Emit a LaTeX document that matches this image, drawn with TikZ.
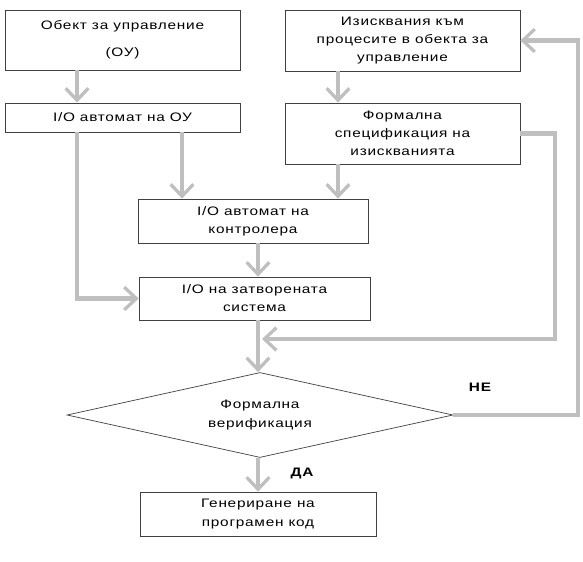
\documentclass[tikz,border=0pt]{standalone}
\usepackage{fontspec}
\setmainfont{Liberation Sans}[FakeStretch=1.25,LetterSpace=6]
\usetikzlibrary{arrows.meta,shapes.geometric}

\tikzset{
	blok/.style={draw=black!75, line width=0.6pt, fill=white, align=center, inner sep=0pt, minimum width=7.05cm},
	flow/.style={draw=gray!50, line width=4pt, -{Straight Barb[length=3.6mm,width=6.8mm,line width=2.8pt]}},
	mark label/.style={font=\bfseries\fontsize{10.5}{12}\selectfont},
}

\begin{document}
\begin{tikzpicture}[x=0.03cm, y=-0.03cm, font=\fontsize{10.5}{15.5}\selectfont]
	\useasboundingbox (0,0) rectangle (583,562);
	
	% x positions of the vertical connectors
	\coordinate (xl) at (77,0);
	\coordinate (xm) at (182,0);
	\coordinate (xr) at (338,0);
	\coordinate (xc) at (258,0);
	\coordinate (xf) at (555,0);
	\coordinate (xo) at (578,0);
	
	\node[blok, minimum height=1.8cm] (obj) at (122.5,40) {Обект за управление\\[0.25cm](ОУ)};
	\node[blok, minimum height=0.87cm] (aou) at (122.5,117.5) {I/O автомат на ОУ};
	\node[blok, minimum height=1.83cm] (req) at (402.5,40.5) {Изисквания към\\процесите в обекта за\\управление};
	\node[blok, minimum height=1.83cm] (spec) at (402.5,133.5) {Формална\\спецификация на\\изискванията};
	\node[blok, minimum width=6.9cm, minimum height=1.32cm] (ctrl) at (253,221) {I/O автомат на\\контролера};
	\node[blok, minimum width=6.93cm, minimum height=1.29cm] (sys) at (254.5,298.5) {I/O на затворената\\система};
	\node[draw=black!75, line width=0.6pt, diamond, shape aspect=4.5, minimum width=11.58cm, minimum height=2.55cm, inner sep=0pt, align=center] (ver) at (260,415) {Формална\\верификация};
	\node[blok, minimum width=7.08cm, minimum height=1.32cm] (code) at (258,514) {Генериране на\\програмен код};
	
	\coordinate (fb) at (262,339);
	
	\draw[flow] (obj.south -| xl) -- (aou.north -| xl);
	\draw[flow] (aou.south -| xm) -- (ctrl.north -| xm);
	\draw[flow] (aou.south -| xl) |- (sys.west);
	\draw[flow] (req.south -| xr) -- (spec.north -| xr);
	\draw[flow] (spec.south -| xr) -- (ctrl.north -| xr);
	\draw[flow] (ctrl.south -| xc) -- (sys.north -| xc);
	\draw[flow] (sys.south -| xc) -- (ver.north -| xc);
	\draw[flow] (spec.east) -- (spec.east -| xf) |- (fb);
	\draw[flow] (ver.east) -- (ver.east -| xo) -- (req.east -| xo) -- (req.east);
	\draw[flow] (ver.south -| xc) -- (code.north -| xc);
	
	\node[mark label] (ne) at (480,387) {НЕ};
	\node[mark label] (da) at (302,473) {ДА};
\end{tikzpicture}
\end{document}
